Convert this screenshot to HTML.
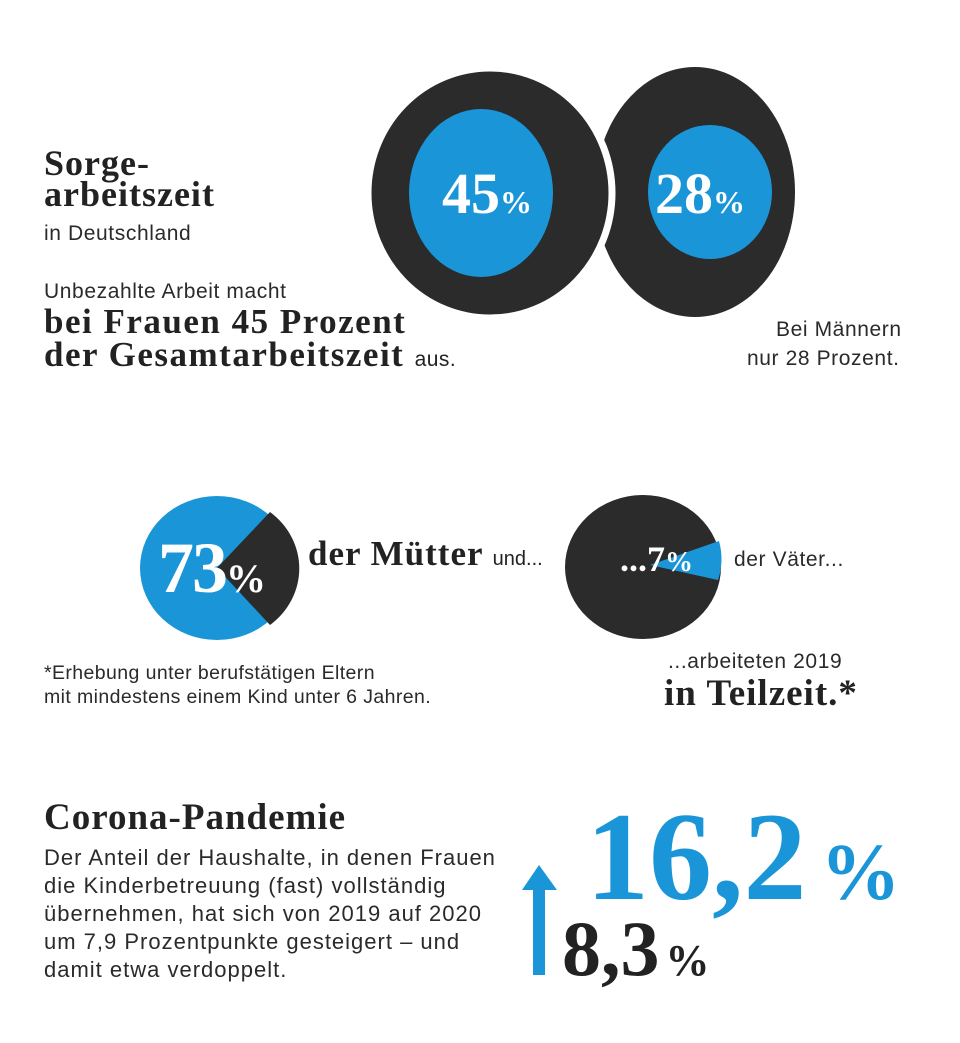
<!DOCTYPE html>
<html><head><meta charset="utf-8"><style>
body{margin:0;width:960px;height:1043px;background:#fff;position:relative;overflow:hidden;font-family:"Liberation Sans",sans-serif;color:#222}
.a{position:absolute;white-space:nowrap}
.s{font-family:"Liberation Serif",serif;font-weight:bold;color:#222;letter-spacing:1px}
.t{font-size:21px;color:#2a2a2a;letter-spacing:0.6px}
</style></head><body>
<svg class="a" style="left:0;top:0" width="960" height="1043">
<ellipse cx="695" cy="192" rx="100" ry="125" fill="#2b2b2b"/>
<ellipse cx="490" cy="193" rx="122" ry="125" fill="#2b2b2b" stroke="#fff" stroke-width="7"/>
<ellipse cx="481" cy="193" rx="72" ry="84" fill="#1a96d8"/>
<ellipse cx="710" cy="192" rx="62" ry="67" fill="#1a96d8"/>
<ellipse cx="217" cy="568" rx="77" ry="72" fill="#1a96d8"/>
<path d="M217,568 L270,512 A77,72 0 0 1 270,625 Z" fill="#2b2b2b"/>
<ellipse cx="643" cy="567" rx="78" ry="72" fill="#2b2b2b"/>
<path d="M650,565 L719,541 A78,72 0 0 1 718,580 Z" fill="#1a96d8"/>
<rect x="533" y="888" width="12" height="87" fill="#1a96d8"/>
<polygon points="522,890 539,865 557,890" fill="#1a96d8"/>
</svg>
<div class="a s" style="left:44px;top:148px;font-size:36px;line-height:31px">Sorge-<br>arbeitszeit</div>
<div class="a t" style="left:44px;top:222px">in Deutschland</div>
<div class="a t" style="left:44px;top:280px">Unbezahlte Arbeit macht</div>
<div class="a s" style="left:44px;top:305px;font-size:35px;line-height:33px;letter-spacing:1.5px">bei Frauen 45 Prozent<br>der Gesamtarbeitszeit <span style="font-family:'Liberation Sans';font-weight:normal;font-size:21px;letter-spacing:0.5px">aus.</span></div>
<div class="a s" style="left:442px;top:160px;font-size:58px;color:#fff;letter-spacing:0">45<span style="font-size:32px">%</span></div>
<div class="a s" style="left:655px;top:160px;font-size:58px;color:#fff;letter-spacing:0">28<span style="font-size:32px">%</span></div>
<div class="a t" style="left:776px;top:318px">Bei Männern</div>
<div class="a t" style="left:747px;top:347px">nur 28 Prozent.</div>
<div class="a s" style="left:158px;top:527px;font-size:72px;color:#fff;letter-spacing:-2px">73<span style="font-size:40px;color:#fff">%</span></div>
<div class="a s" style="left:308px;top:534px;font-size:35px">der Mütter <span style="font-family:'Liberation Sans';font-weight:normal;font-size:20px;letter-spacing:0">und...</span></div>
<div class="a s" style="left:620px;top:538px;font-size:36px;color:#fff;letter-spacing:0">...7<span style="font-size:28px">%</span></div>
<div class="a t" style="left:734px;top:548px">der Väter...</div>
<div class="a t" style="left:44px;top:662px;font-size:19.5px;letter-spacing:0.4px">*Erhebung unter berufstätigen Eltern</div>
<div class="a t" style="left:44px;top:686px;font-size:19.5px;letter-spacing:0.4px">mit mindestens einem Kind unter 6 Jahren.</div>
<div class="a t" style="left:668px;top:650px">...arbeiteten 2019</div>
<div class="a s" style="left:664px;top:672px;font-size:37px">in Teilzeit.*</div>
<div class="a s" style="left:44px;top:796px;font-size:37px">Corona-Pandemie</div>
<div class="a t" style="left:44px;top:844px;line-height:28px;font-size:22px;letter-spacing:1px">Der Anteil der Haushalte, in denen Frauen<br>die Kinderbetreuung (fast) vollständig<br>übernehmen, hat sich von 2019 auf 2020<br>um 7,9 Prozentpunkte gesteigert – und<br>damit etwa verdoppelt.</div>
<div class="a s" style="left:586px;top:796px;font-size:126px;line-height:124px;color:#1a96d8;letter-spacing:0">16,2<span style="font-size:80px;margin-left:14px">%</span></div>
<div class="a s" style="left:562px;top:910px;font-size:78px;line-height:78px;letter-spacing:0">8,3<span style="font-size:44px;margin-left:6px">%</span></div>
</body></html>
